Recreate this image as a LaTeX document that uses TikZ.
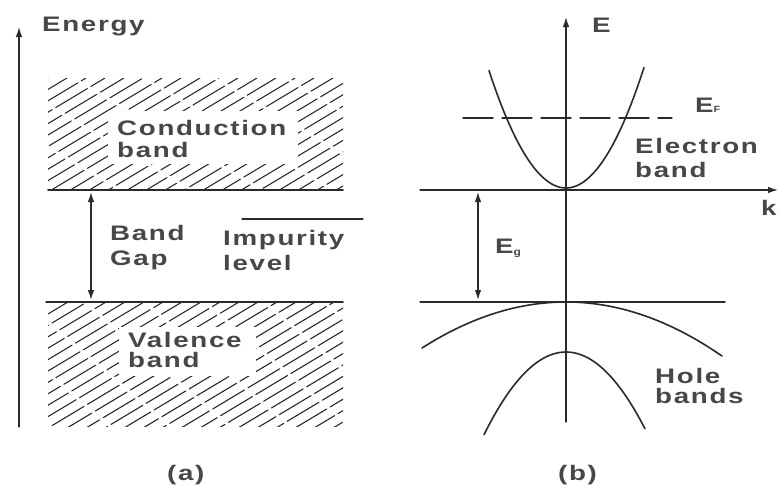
\documentclass[tikz,border=0pt]{standalone}
\usepackage{fontspec}
\newfontfamily\labfont[FakeStretch=1.32,LetterSpace=8]{Liberation Sans Bold}
\newfontfamily\subfont[FakeStretch=1.2]{Liberation Sans Bold}
\usetikzlibrary{arrows.meta}
\definecolor{ink}{HTML}{2A2A2A}
\definecolor{txt}{HTML}{474747}
\begin{document}
\begin{tikzpicture}[x=1pt,y=-1pt, line cap=round,
  lab/.style={font=\labfont\fontsize{21}{#1}\selectfont, text=txt, inner sep=0pt, anchor=base west, align=left},
  lab/.default=24,
  axis/.style={draw=ink, line width=1.3pt},
  tip/.style={-{Latex[length=10pt,width=6.5pt]}},
  dtip/.style={{Latex[length=10pt,width=6.5pt]}-{Latex[length=10pt,width=6.5pt]}},
  bandline/.style={draw=ink, line width=1.6pt},
  hatchline/.style={draw=ink, line width=1.1pt}]
\useasboundingbox[fill=white] (0,0) rectangle (779,488);

% ---------------- panel (a) ----------------
\coordinate (eb) at (19,427);
\coordinate (et) at (19,27);
\draw[axis,tip] (eb) -- (et);
\node[lab] (energy) at (42,31) {Energy};

% conduction band hatching
\begin{scope}
  \clip (48,78) rectangle (343,190);
  \foreach \i in {-10,...,16}{
    \pgfmathsetmacro\ph{mod(\i*11+200,41)}
    \draw[hatchline, dash pattern=on 37pt off 4pt, dash phase=\ph pt] (48+19*\i,192) -- ++(190,-114);
  }
\end{scope}
\fill[white] (108,111) rectangle (298,164);
\node[lab=22] (cond) at (117,157) {Conduction\\band};
\coordinate (cl) at (48,190);
\coordinate (cr) at (343,190);
\draw[bandline] (cl) -- (cr);

% valence band hatching
\begin{scope}
  \clip (48,302) rectangle (343,426);
  \foreach \i in {-10,...,16}{
    \pgfmathsetmacro\ph{mod(\i*13+200,41)}
    \draw[hatchline, dash pattern=on 37pt off 4pt, dash phase=\ph pt] (48+19*\i,428) -- ++(220,-132);
  }
\end{scope}
\fill[white] (119,327) rectangle (256,376);
\node[lab=20] (val) at (128,367) {Valence\\band};
\coordinate (vl) at (46,302);
\coordinate (vr) at (343,302);
\draw[bandline] (vl) -- (vr);

% band gap arrow
\coordinate (gt) at (91,192);
\coordinate (gb) at (91,300);
\draw[axis,dtip] (gt) -- (gb);
\node[lab=25] (gap) at (110,265) {Band\\Gap};

% impurity level
\coordinate (il) at (242,219);
\coordinate (ir) at (363,219);
\draw[axis] (il) -- (ir);
\node[lab=25] (imp) at (223,270) {Impurity\\level};

\node[lab] (capa) at (167,480) {(a)};

% ---------------- panel (b) ----------------
\coordinate (Eb) at (566,422);
\coordinate (Et) at (566,17);
\draw[axis,tip] (Eb) -- (Et);
\node[lab] (Elab) at (592,32) {E};

\coordinate (kl) at (420,190);
\coordinate (kr) at (778,190);
\draw[axis,tip] (kl) -- (kr);
\node[lab] (klab) at (761,215) {k};

% electron band
\draw[bandline] plot[domain=-7.7:7.8, samples=70] ({566+10*\x},{188-1.98*\x*\x});
% Fermi level
\coordinate (fl) at (463,118);
\coordinate (fr) at (672,118);
\draw[axis, dash pattern=on 30pt off 9pt] (fl) -- (fr);
\node[lab] (EF) at (695,112) {E{\subfont\fontsize{9}{9}\selectfont F}};
\node[lab] (elec) at (635,177) {Electron\\band};

% valence top line
\coordinate (bl) at (420,302);
\coordinate (br) at (725,302);
\draw[axis] (bl) -- (br);

% gap arrow
\coordinate (Gt) at (478,192);
\coordinate (Gb) at (478,300);
\draw[axis,dtip] (Gt) -- (Gb);
\node[lab] (Eg) at (495,253) {E{\subfont\fontsize{10}{10}\selectfont\raisebox{-2pt}{g}}};

% hole bands
\draw[bandline] plot[domain=-14.4:15.6, samples=80] ({566+10*\x},{302+0.222*\x*\x});
\draw[bandline] plot[domain=-8.2:7.9, samples=70] ({566+10*\x},{352+1.23*\x*\x});
\node[lab=20] (hole) at (655,403) {Hole\\bands};

\node[lab] (capb) at (558,480) {(b)};
\end{tikzpicture}
\end{document}
